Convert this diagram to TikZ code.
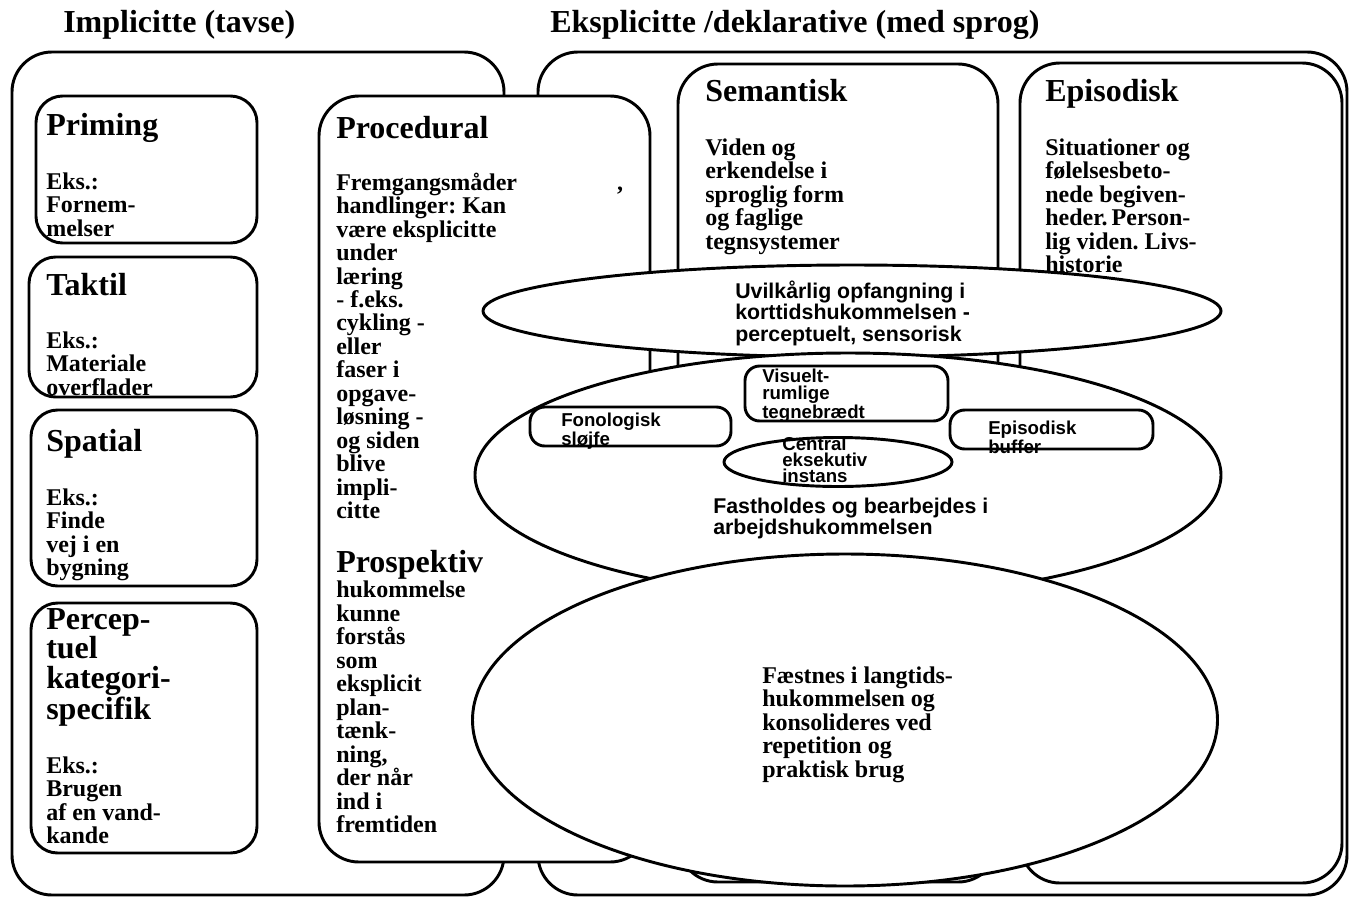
\documentclass[tikz,border=0pt]{standalone}
\usepackage{fontspec}
\setmainfont{Liberation Serif}
\setsansfont{Liberation Sans}
\usetikzlibrary{shapes.geometric,fit}
\frenchspacing

\begin{document}
\begin{tikzpicture}[
    x=0.75pt, y=-0.75pt,
    frame/.style={
        draw,
        line width=2.2pt,
        fill=white,
        rounded corners=30pt,
        inner sep=0pt,
    },
    lbox/.style={frame, rounded corners=20pt},
    wbox/.style={frame, rounded corners=11pt},
    oval/.style={draw, line width=2.2pt, fill=white, ellipse, inner sep=0pt},
    title/.style={anchor=north west, inner sep=0pt, font=\fontsize{24}{24}\selectfont\bfseries},
    head/.style={anchor=north west, inner sep=0pt, align=left, font=\fontsize{24}{22.1}\selectfont\bfseries},
    body/.style={anchor=north west, inner sep=0pt, align=left, font=\fontsize{18}{17.6}\selectfont\bfseries},
    sans/.style={anchor=north west, inner sep=0pt, align=left, font=\sffamily\fontsize{16}{16.1}\selectfont\bfseries},
    small/.style={anchor=north west, inner sep=0pt, align=left, font=\sffamily\fontsize{14}{13}\selectfont\bfseries},
]

\def\PX{0.75pt}     %one pixel of the sketch

\useasboundingbox (0,0) rectangle (1350,897);

%titles
\node[title] (impl) at (63,10)  {Implicitte (tavse)};
\node[title] (ekspl) at (550,10) {Eksplicitte /deklarative (med sprog)};

%the two big frames
\node[frame, fit={(12,52) (504,895)}]  (implbox) {};
\node[frame, fit={(538,52) (1347,895)}] (eksplbox) {};

%columns
\node[frame, fit={(319,96) (650,862)}]  (proc) {};
\node[frame, fit={(678,64) (998,882)}]  (sem)  {};
\node[frame, fit={(1020,63) (1342,883)}] (epi) {};

%implicit boxes
\node[lbox, fit={(36,96) (257,243)}]  (priming) {};
\node[lbox, fit={(29,257) (257,397)}] (taktil)  {};
\node[lbox, fit={(31,410) (257,586)}] (spatial) {};
\node[lbox, fit={(31,603) (257,853)}] (percep)  {};

\node[head] (primingH) at (46,113) {Priming};
\node[body] (primingT) at (46,172.5) {Eks.:\\Fornem-\\melser};
\node[head] (taktilH) at (46,273.5) {Taktil};
\node[body] (taktilT) at (46,331.5) {Eks.:\\Materiale\\overflader};
\node[head] (spatialH) at (46,429) {Spatial};
\node[body] (spatialT) at (46,488.5) {Eks.:\\Finde\\vej i en\\bygning};
\node[head] (percepH) at (46,608) {Percep-\\tuel\\kategori-\\specifik};
\node[body] (percepT) at (46,756.5) {Eks.:\\Brugen\\af en vand-\\kande};

\node[head] (procH) at (336,116) {Procedural};
\node[body] (procT) at (336,172.5) {Fremgangsmåder\hspace{75pt},\\handlinger: Kan\\være eksplicitte\\under\\læring\\- f.eks.\\cykling -\\eller\\faser i\\opgave-\\løsning -\\og siden\\blive\\impli-\\citte};
\node[head] (prosH) at (336,550) {Prospektiv};
\node[body] (prosT) at (336,581) {hukommelse\\kunne\\forstås\\som\\eksplicit\\plan-\\tænk-\\ning,\\der når\\ind i\\fremtiden};

\node[head] (semH) at (705,79) {Semantisk};
\node[body] (semT) at (705,138.5) {Viden og\\erkendelse i\\sproglig form\\og faglige\\tegnsystemer};
\node[head] (epiH) at (1045,79) {Episodisk};
\node[body] (epiT) at (1045,138.5) {Situationer og\\følelsesbeto-\\nede begiven-\\heder.\,Person-\\lig viden. Livs-\\historie};

%short term
\node[oval, minimum width=738*\PX, minimum height=92*\PX] (korttid) at (852,311) {};
\node[sans] (korttidT) at (735,280.7) {Uvilkårlig opfangning i\\korttidshukommelsen -\\perceptuelt, sensorisk};

%working memory
\node[oval, minimum width=746*\PX, minimum height=244*\PX] (arbejd) at (848,475) {};
\node[wbox, fit={(745,366) (948,421)}] (visuelt) {};
\node[wbox, fit={(530,407) (731,446)}] (fonol)   {};
\node[wbox, fit={(950,410) (1153,449)}] (buffer) {};
\node[oval, minimum width=228*\PX, minimum height=49*\PX] (central) at (838,462) {};
\node[small] (visueltT) at (762,368.6) {Visuelt-\\rumlige\\tegnebrædt};
\node[small, font=\sffamily\fontsize{14}{10.5}\selectfont\bfseries] (fonolT) at (561,412.6) {Fonologisk\\sløjfe};
\node[small, font=\sffamily\fontsize{14}{10}\selectfont\bfseries] (bufferT) at (988,420.6) {Episodisk\\buffer};
\node[small, font=\sffamily\fontsize{14}{12}\selectfont\bfseries] (centralT) at (782,437) {Central\\eksekutiv\\instans};
\node[sans] (arbejdT) at (713,497.7) {Fastholdes og bearbejdes i\\arbejdshukommelsen};

%long term
\node[oval, minimum width=745*\PX, minimum height=332*\PX] (langtid) at (845,720) {};
\node[body] (langtidT) at (762,666.5) {Fæstnes i langtids-\\hukommelsen og\\konsolideres ved\\repetition og\\praktisk brug};

\end{tikzpicture}
\end{document}
